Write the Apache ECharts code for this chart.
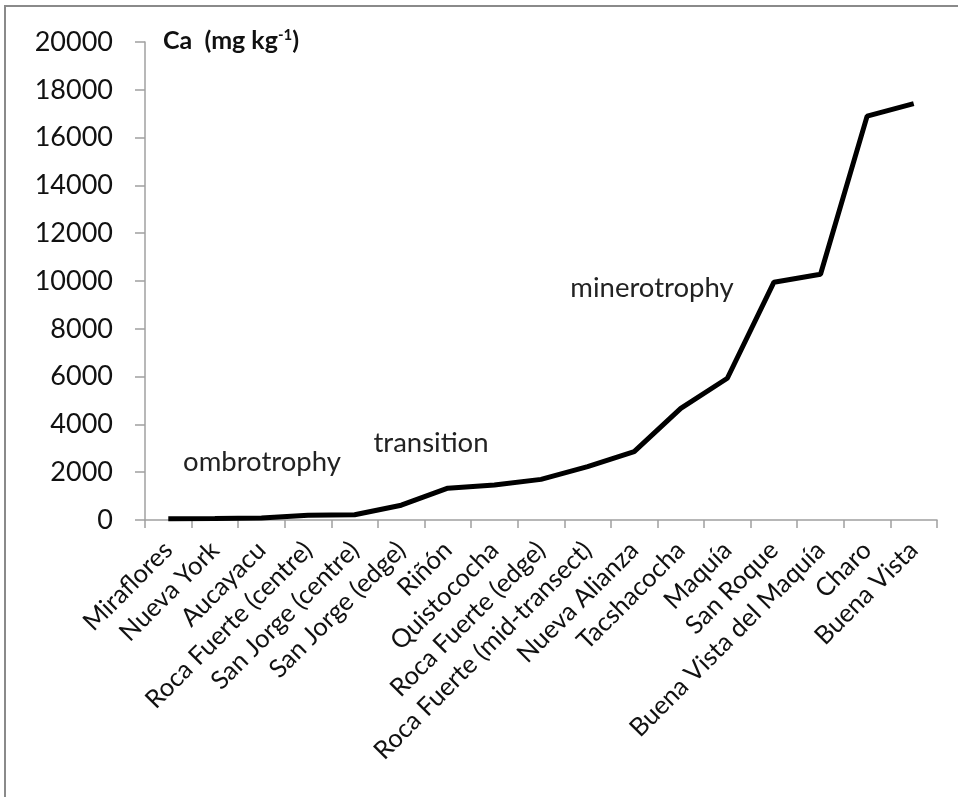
<!DOCTYPE html>
<html>
<head>
<meta charset="utf-8">
<script src="https://cdn.jsdelivr.net/npm/echarts@6/dist/echarts.min.js"></script>
<style>
  html, body { margin: 0; padding: 0; background: #fff; }
  #frame { position: absolute; left: 4px; top: 5px; width: 954px; height: 792px; border-top: 2px solid #8a8a8a; border-left: 2px solid #8a8a8a; }
  #chart { position: absolute; left: 0; top: 0; width: 958px; height: 797px; }
</style>
</head>
<body>
<div id="frame"></div>
<div id="chart"></div>
<script>
const categories = ["Miraflores", "Nueva York", "Aucayacu", "Roca Fuerte (centre)", "San Jorge (centre)", "San Jorge (edge)", "Riñón", "Quistococha", "Roca Fuerte (edge)", "Roca Fuerte (mid-transect)", "Nueva Alianza", "Tacshacocha", "Maquía", "San Roque", "Buena Vista del Maquía", "Charo", "Buena Vista"];
const caValues = [50, 60, 80, 200, 220, 620, 1330, 1460, 1700, 2230, 2860, 4670, 5930, 9950, 10280, 16900, 17420];
const yMin = 0, yMax = 20000, yStep = 2000;
const annotations = [
  { text: "ombrotrophy", x: 262, y: 462 },
  { text: "transition", x: 431, y: 443 },
  { text: "minerotrophy", x: 652, y: 288 }
];

const FONT = "Lato";
const chart = echarts.init(document.getElementById('chart'), null, { renderer: 'canvas' });
chart.setOption({
  animation: false,
  backgroundColor: 'transparent',
  grid: { left: 145, right: 21, top: 42, bottom: 277, containLabel: false },
  xAxis: {
    type: 'category',
    data: categories,
    boundaryGap: true,
    axisLine: { lineStyle: { color: '#a0a0a0', width: 1.5 } },
    axisTick: { show: true, length: 8, lineStyle: { color: '#a0a0a0', width: 1.5 } },
    axisLabel: { rotate: 45, fontFamily: FONT, fontSize: 25.5, color: '#111', margin: 26, interval: 0 }
  },
  yAxis: {
    type: 'value',
    min: yMin, max: yMax, interval: yStep,
    splitLine: { show: false },
    axisLine: { show: true, lineStyle: { color: '#a0a0a0', width: 1.5 } },
    axisTick: { show: true, length: 10, lineStyle: { color: '#a0a0a0', width: 1.5 } },
    axisLabel: { fontFamily: FONT, fontSize: 27, color: '#111', margin: 32, formatter: v => String(v) }
  },
  series: [{
    type: 'line',
    data: caValues,
    symbol: 'none',
    lineStyle: { color: '#000', width: 5 },
    z: 3
  }],
  graphic: [
    {
      type: 'text', left: 163, top: 28,
      style: {
        text: '{b|Ca  (mg kg}{s|-1}{b|)}',
        rich: {
          b: { fontFamily: FONT, fontWeight: 'bold', fontSize: 25, fill: '#111' },
          s: { fontFamily: FONT, fontWeight: 'bold', fontSize: 15, fill: '#111', verticalAlign: 'top', padding: [0, 0, 10, 0] }
        }
      }
    }
  ].concat(annotations.map(a => ({
    type: 'text', x: a.x, y: a.y,
    style: { text: a.text, fontFamily: FONT, fontSize: 27.5, fill: '#222', align: 'center', verticalAlign: 'middle' }
  })))
});
</script>
</body>
</html>
